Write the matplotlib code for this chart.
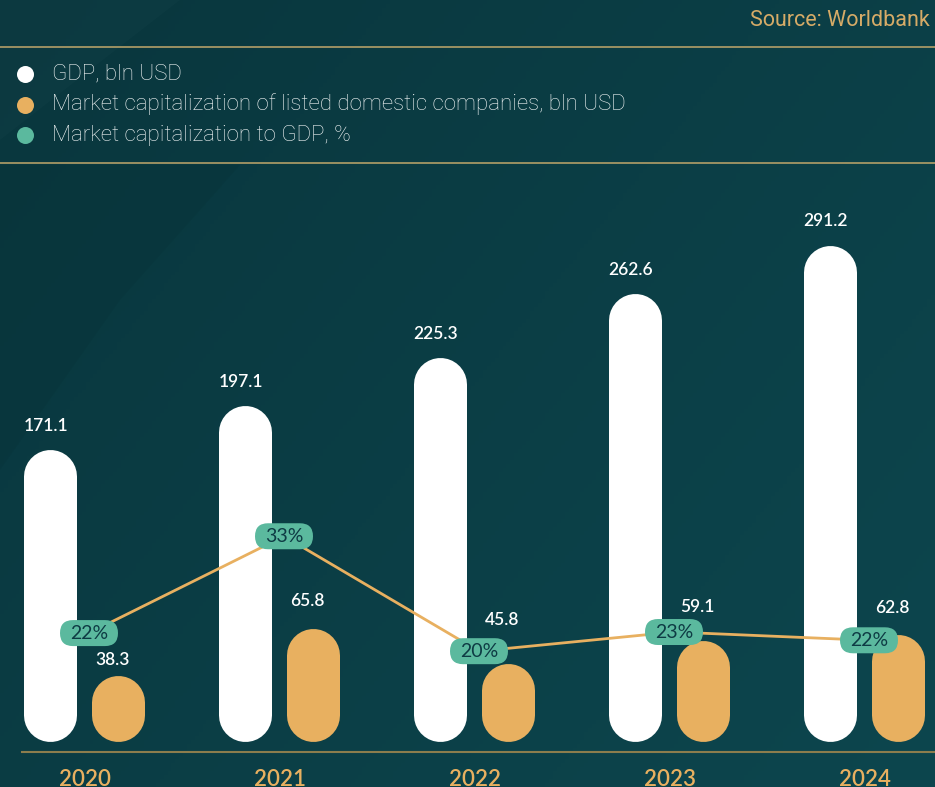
import numpy as np
import matplotlib
matplotlib.use('Agg')
import matplotlib.pyplot as plt
from matplotlib import font_manager
from matplotlib.patches import FancyBboxPatch
from matplotlib.transforms import blended_transform_factory, ScaledTranslation

# data
years = ['2020', '2021', '2022', '2023', '2024']
gdp = [171.1, 197.1, 225.3, 262.6, 291.2]
mcap = [38.3, 65.8, 45.8, 59.1, 62.8]
legend_labels = ['GDP, bln USD',
                 'Market capitalization of listed domestic companies, bln USD',
                 'Market capitalization to GDP, %']
source = 'Source: Worldbank'

# market cap to GDP, %
share = [m / g * 100 for m, g in zip(mcap, gdp)]

WHITE = '#ffffff'
ORANGE = '#e8b060'
TEAL = '#5bb99e'
GOLD = '#d6ab67'
DARK = '#0e3b44'

names = {f.name for f in font_manager.fontManager.ttflist}
num_font = 'Lato' if 'Lato' in names else 'DejaVu Sans'
leg_font = 'Roboto' if 'Roboto' in names else 'DejaVu Sans'

W, H = 935, 787
fig = plt.figure(figsize=(W / 100, H / 100), dpi=100)

# background in pixel coords (y down)
bg = fig.add_axes([0, 0, 1, 1])
bg.set_xlim(0, W)
bg.set_ylim(H, 0)
bg.axis('off')
yy, xx = np.mgrid[0:1:200j, 0:1:240j]
t = np.clip(0.6 * xx + 0.4 * yy, 0, 1)
c0 = np.array([9, 54, 61]) / 255
c1 = np.array([13, 70, 78]) / 255
bg.imshow(c0 + (c1 - c0) * t[..., None], extent=[0, W, H, 0], aspect='auto', zorder=0)
# faint decoration top-left
bg.fill([0, 240, 120, 0], [165, 165, 300, 470], color='black', alpha=0.035, zorder=1, lw=0)
bg.fill([0, 180, 0], [0, 0, 140], color='white', alpha=0.015, zorder=1, lw=0)

# header
bg.text(930, 21, source, ha='right', va='center', color=GOLD, fontsize=15.5,
        family=leg_font)
bg.plot([0, W], [47, 47], color='#b39f68', lw=1.2, zorder=2)
bg.plot([0, W], [163, 163], color='#b39f68', lw=1.2, zorder=2)
for k, (lab, col) in enumerate(zip(legend_labels, [WHITE, ORANGE, TEAL])):
    y = 74 + k * 30.5
    bg.scatter([25], [y], s=150, color=col, zorder=3, lw=0)
    bg.text(52, y, lab, va='center', ha='left', color='#f2f6f6', fontsize=16,
            family=leg_font, fontweight='light')
bg.plot([22, W], [752, 752], color='#8c7d4d', lw=1.5, zorder=2)

# main bar axes: scale chosen so value 0 sits on the baseline
PX = 1.703          # pixels per bln USD
base = 46           # baseline height from bottom, px
step = 195          # px between years
x0 = 50             # first GDP bar centre, px
xlim = (-x0 / step, (W - x0) / step)
ax = fig.add_axes([0, 0, 1, 1])
ax.set_facecolor('none')
ax.axis('off')

bw = 53
lw = bw * 72 / 100
r = bw / 2 / PX
off = 68 / step
grp = 0.18
pgrp = 0.2
xs = np.arange(len(years))
mcap_dy = [11, 20, 31, 24, 19]   # label lift above orange bars, pt

for i in xs:
    ax.plot([i, i], [r, max(gdp[i] - r, r)], color=WHITE, lw=lw,
            solid_capstyle='round', zorder=3)
    ax.plot([i + off, i + off], [r, max(mcap[i] - r, r)], color=ORANGE, lw=lw,
            solid_capstyle='round', zorder=3)
    ax.annotate(f'{gdp[i]}', (i, gdp[i]), xytext=(-3, 17), textcoords='offset points',
                ha='center', va='center', color=WHITE, fontsize=12.5,
                family=num_font, fontweight='semibold')
    ax.annotate(f'{mcap[i]}', (i + off, mcap[i]), xytext=(-4, mcap_dy[i]),
                textcoords='offset points', ha='center', va='center', color=WHITE,
                fontsize=12.5, family=num_font, fontweight='semibold')

trans = blended_transform_factory(ax.transData, fig.transFigure)
for i, yr in enumerate(years):
    ax.text(i + grp, 7 / H, yr, transform=trans, ha='center', va='center',
            color=ORANGE, fontsize=16, family=num_font, fontweight='semibold')

# percent line on its own scale
ax2 = fig.add_axes([0, 0, 1, 1])
ax2.set_facecolor('none')
ax2.axis('off')
ax2.plot(xs + pgrp, share, color=ORANGE, lw=2, zorder=4)
pw, ph = 0.58, 0.26   # pill size, inches
for i, p in enumerate(share):
    tr = fig.dpi_scale_trans + ScaledTranslation(i + pgrp, p, ax2.transData)
    ax2.add_patch(FancyBboxPatch((-pw / 2, -ph / 2), pw, ph,
                                 boxstyle=f'round,pad=0,rounding_size={ph / 2}',
                                 transform=tr, fc=TEAL, ec='none', zorder=5))
    ax2.text(i + pgrp, p, f'{p:.0f}%', ha='center', va='center', color=DARK,
             fontsize=14, family=num_font, zorder=6)

ax.set_xlim(*xlim)
ax.set_ylim(-base / PX, (H - base) / PX)
ax2.set_xlim(*xlim)
ax2.set_ylim(4.9, 94.3)

fig.savefig('out.png', dpi=100)
